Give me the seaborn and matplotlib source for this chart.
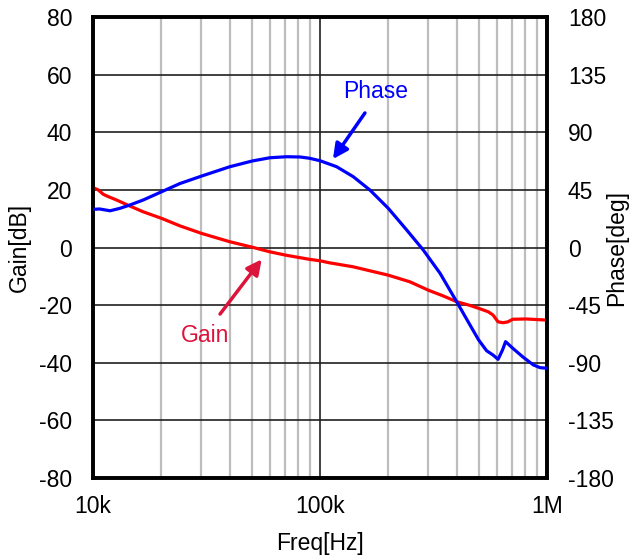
import numpy as np
import pandas as pd
import matplotlib
matplotlib.use("Agg")
import matplotlib.pyplot as plt
import seaborn as sns
from matplotlib.ticker import FixedLocator, NullFormatter

sns.set_style("white")
plt.rcParams['font.family'] = ['Liberation Sans', 'DejaVu Sans']
plt.rcParams['axes.unicode_minus'] = False

gain_freq = [10000, 10550, 11100, 11500, 12700, 14550, 16650, 20100, 24200, 30100,
             40100, 50400, 60200, 71200, 90000, 100000, 110000, 140200, 200000, 249000,
             300000, 349000, 400000, 458000, 500000, 551000, 578000, 609000, 640000,
             672000, 707000, 811000, 1000000]
gain_db = [20.8, 20.0, 18.5, 17.9, 16.5, 14.4, 12.4, 10.1, 7.5, 4.9,
           2.0, 0.1, -1.5, -2.7, -4.1, -4.6, -5.3, -6.7, -9.6, -11.9,
           -14.8, -16.8, -18.8, -20.1, -21.1, -22.3, -23.4, -25.8, -26.1,
           -25.8, -24.9, -24.8, -25.2]

phase_freq = [10000, 10700, 11900, 13150, 14550, 16650, 20100, 24200, 30100, 40100,
              50400, 60200, 71200, 81800, 90000, 100000, 118400, 140200, 166000, 200000,
              241000, 285000, 338000, 400000, 458000, 500000, 542000, 578000, 609000,
              637000, 657000, 707000, 786000, 871000, 932000, 1000000]
phase_deg = [29.8, 30.1, 28.7, 30.6, 33.2, 37.1, 43.6, 50.0, 55.8, 63.1,
             67.6, 70.1, 70.9, 70.7, 69.7, 67.8, 63.1, 55.3, 44.9, 30.6,
             13.7, -1.9, -20.1, -42.3, -60.5, -72.2, -80.6, -83.9, -87.3,
             -80.0, -73.5, -78.7, -85.7, -91.7, -93.8, -94.3]

gain_ticks = [-80, -60, -40, -20, 0, 20, 40, 60, 80]
phase_ticks = [-180, -135, -90, -45, 0, 45, 90, 135, 180]
x_ticks = [1e4, 1e5, 1e6]
x_labels = ["10k", "100k", "1M"]

df_g = pd.DataFrame({"f": gain_freq, "v": gain_db})
df_p = pd.DataFrame({"f": phase_freq, "v": phase_deg})

FS = 16.5
fig = plt.figure(figsize=(6.32, 5.6), dpi=100)
ax = fig.add_axes([0.147, 0.1464, 0.7185, 0.8232])
ax2 = ax.twinx()

ax.set_xscale("log")

# grid
minor = [m * 10**d for d in (4, 5) for m in range(2, 10)]
for xv in minor:
    ax.axvline(xv, color="#bdbdbd", lw=1.6, zorder=0)
ax.axvline(1e5, color="#202020", lw=1.2, zorder=0)
for yv in gain_ticks[1:-1]:
    ax.axhline(yv, color="#202020", lw=1.2, zorder=0)

sns.lineplot(data=df_g, x="f", y="v", ax=ax, color="#ff0000", lw=2.3, zorder=3)
sns.lineplot(data=df_p, x="f", y="v", ax=ax2, color="#0000ff", lw=2.3, zorder=3)
ax.set_xscale("log")
ax.set_xlim(1e4, 1e6)
ax.set_ylim(-80, 80)
ax2.set_ylim(-180, 180)

ax.xaxis.set_major_locator(FixedLocator(x_ticks))
ax.set_xticklabels(x_labels)
ax.xaxis.set_minor_formatter(NullFormatter())
ax.tick_params(axis="x", which="minor", length=0)
ax.set_yticks(gain_ticks)
ax2.set_yticks(phase_ticks)
ax.tick_params(axis="x", labelsize=FS, length=0, pad=12, colors="black")
ax.tick_params(axis="y", labelsize=FS, length=0, pad=15, colors="black")
ax2.tick_params(axis="y", labelsize=FS, length=0, pad=15, colors="black")

ax.set_xlabel("Freq[Hz]", fontsize=FS, labelpad=10, color="black")
ax.set_ylabel("Gain[dB]", fontsize=FS, labelpad=6, color="black")
ax2.set_ylabel("Phase[deg]", fontsize=FS, rotation=90, color="black")
ax2.yaxis.set_label_coords(1.128, 0.5)

for a in (ax, ax2):
    for s in a.spines.values():
        s.set_linewidth(2.6)
        s.set_color("black")

# annotations (gain-axis data coordinates)
arrow_kw = dict(arrowstyle="-|>,head_length=0.9,head_width=0.45",
                lw=2.5, shrinkA=0, shrinkB=0)
ax.annotate("", xy=(1.141e5, 30.7), xytext=(1.578e5, 46.7),
            arrowprops=dict(color="#0000ff", **arrow_kw), zorder=5)
ax.text(1.765e5, 54, "Phase", color="#0000ff", fontsize=FS,
        ha="center", va="center", zorder=5)
ax.annotate("", xy=(5.54e4, -4.1), xytext=(3.63e4, -23.1),
            arrowprops=dict(color="#dc143c", **arrow_kw), zorder=5)
ax.text(3.11e4, -30.7, "Gain", color="#dc143c", fontsize=FS,
        ha="center", va="center", zorder=5)

fig.savefig("out.png", dpi=100)
